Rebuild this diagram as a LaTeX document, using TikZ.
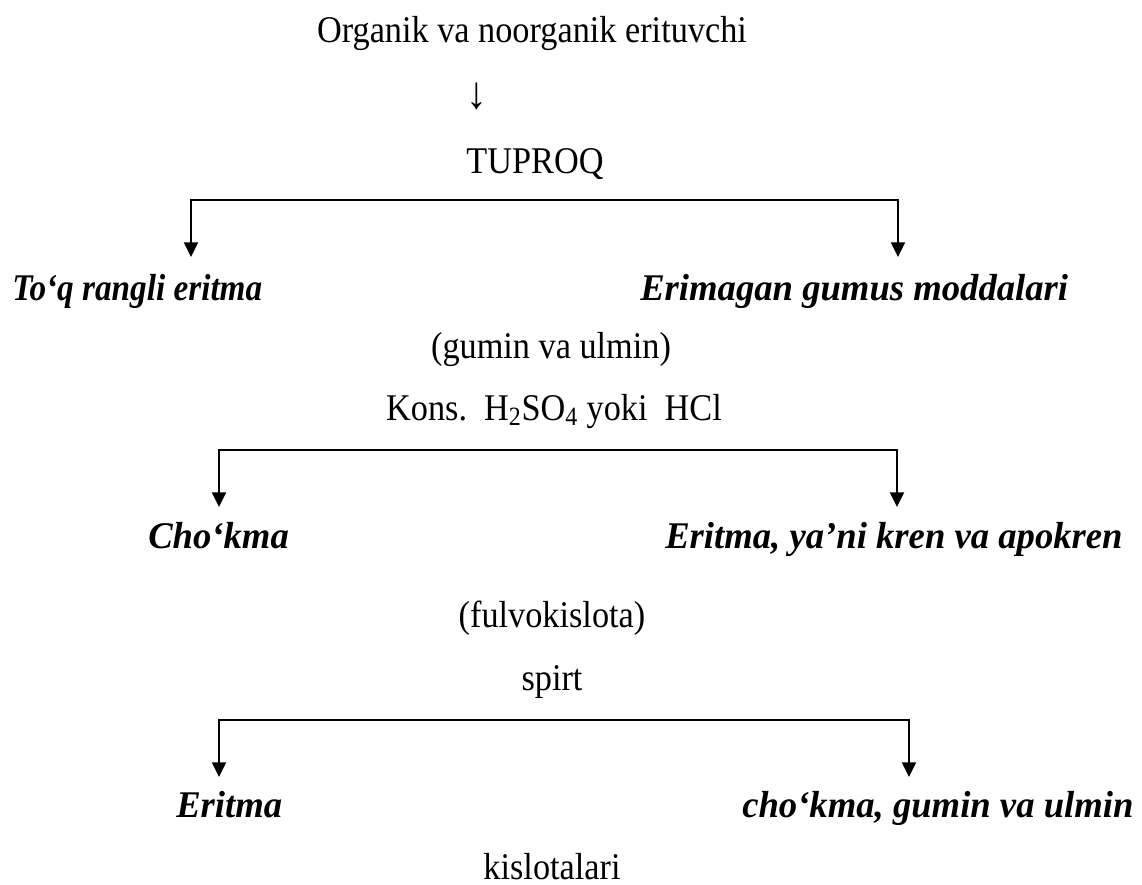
\documentclass[tikz,border=0pt]{standalone}
\usepackage{fontspec}
\setmainfont{Liberation Serif}
\usetikzlibrary{arrows.meta}
\newcommand{\vt}[2][1]{\scalebox{#1}[1.1]{#2}}
\begin{document}
\begin{tikzpicture}[x=0.75pt,y=0.75pt]
\tikzstyle{every node}+=[inner sep=0pt]
\tikzstyle{txt}=[font=\fontsize{25.7}{30}\selectfont, anchor=base]
\tikzstyle{itl}=[font=\fontsize{25.7}{30}\selectfont\bfseries\itshape, anchor=base west]
\tikzstyle{arr}=[line width=1.5pt, -{Triangle[width=10.5pt,length=11pt]}]
\useasboundingbox (0,0) rectangle (1142,-885);
% top
\node [txt] (org) at (532,-42) {\vt{Organik va noorganik erituvchi}};
\node [txt, font=\fontsize{31}{34}\selectfont] (down) at (477,-108) {\vt{↓}};
\node [txt] (tup) at (535,-173) {\vt{TUPROQ}};
% first split
\coordinate (b1l) at (191,-200);
\coordinate (b1r) at (898,-200);
\coordinate (t1l) at (191,-257);
\coordinate (t1r) at (898,-257);
\draw [arr] (b1r) -| (t1l);
\draw [arr] (b1l) -| (t1r);
\node [itl] (toq) at (12,-300) {\vt[0.97]{To‘q rangli eritma}};
\node [itl] (erim) at (640,-300) {\vt[1.07]{Erimagan gumus moddalari}};
\node [txt] (gum) at (551,-358) {\vt{(gumin va ulmin)}};
\node [txt] (kons) at (554,-420) {\vt{Kons.\ \ H\textsubscript{2}SO\textsubscript{4} yoki\ \ HCl}};
% second split
\coordinate (b2l) at (219,-450);
\coordinate (b2r) at (897,-450);
\coordinate (t2l) at (219,-507);
\coordinate (t2r) at (897,-507);
\draw [arr] (b2r) -| (t2l);
\draw [arr] (b2l) -| (t2r);
\node [itl] (chok) at (148,-548) {\vt[1.07]{Cho‘kma}};
\node [itl] (erit) at (665,-548) {\vt[1.07]{Eritma, ya’ni kren va apokren}};
\node [txt] (fulv) at (552,-627) {\vt{(fulvokislota)}};
\node [txt] (spirt) at (552,-690) {\vt{spirt}};
% third split
\coordinate (b3l) at (219,-720);
\coordinate (b3r) at (909,-720);
\coordinate (t3l) at (219,-777);
\coordinate (t3r) at (909,-777);
\draw [arr] (b3r) -| (t3l);
\draw [arr] (b3l) -| (t3r);
\node [itl] (erit2) at (176,-817) {\vt[1.07]{Eritma}};
\node [itl] (chok2) at (742,-817) {\vt[1.07]{cho‘kma, gumin va ulmin}};
\node [txt] (kisl) at (552,-879) {\vt{kislotalari}};
\end{tikzpicture}
\end{document}
